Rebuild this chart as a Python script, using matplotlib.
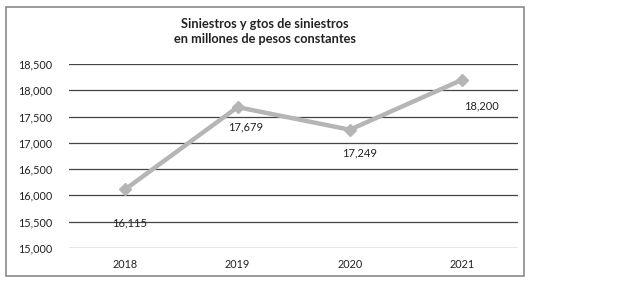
import matplotlib
matplotlib.use("Agg")
import matplotlib.pyplot as plt
from matplotlib.patches import Rectangle

years = ["2018", "2019", "2020", "2021"]
values = [16115, 17679, 17249, 18200]
labels = ["16,115", "17,679", "17,249", "18,200"]
yticks = [15000, 15500, 16000, 16500, 17000, 17500, 18000, 18500]

plt.rcParams['font.family'] = ['Lato', 'DejaVu Sans']

fig = plt.figure(figsize=(6.17, 2.82), dpi=100)
ax = fig.add_axes([0.112, 0.121, 0.728, 0.652])

# outer frame around the chart
fig.patches.append(Rectangle((0.010, 0.021), 0.840, 0.954, transform=fig.transFigure,
                             fill=False, edgecolor='#8a8a8a', linewidth=1.2))

x = range(len(years))
ax.plot(x, values, color='#b5b5b5', linewidth=3.2, marker='D', markersize=6,
        markerfacecolor='#b5b5b5', markeredgecolor='#b5b5b5', zorder=3)

offsets = [(3, -24), (6, -14), (7, -17), (14, -19)]
for i, (v, t) in enumerate(zip(values, labels)):
    ax.annotate(t, (i, v), xytext=offsets[i], textcoords='offset points',
                ha='center', va='center', fontsize=8, color='#222222')

ax.set_xlim(-0.5, 3.5)
ax.set_ylim(15000, 18500)
ax.set_yticks(yticks)
ax.set_yticklabels([f"{t:,}" for t in yticks])
ax.set_xticks(list(x))
ax.set_xticklabels(years)
ax.tick_params(length=0, labelsize=7.8, colors='#222222')
ax.tick_params(axis='y', pad=12)
ax.tick_params(axis='x', pad=8)
ax.grid(axis='y', color='#444444', linewidth=0.9)
ax.set_axisbelow(True)
for s in ax.spines.values():
    s.set_visible(False)

fig.text(0.43, 0.89, "Siniestros y gtos de siniestros\nen millones de pesos constantes",
         ha='center', va='center', fontsize=9.2, fontweight='bold', color='#222222',
         linespacing=1.3)

fig.savefig("out.png", dpi=100)
